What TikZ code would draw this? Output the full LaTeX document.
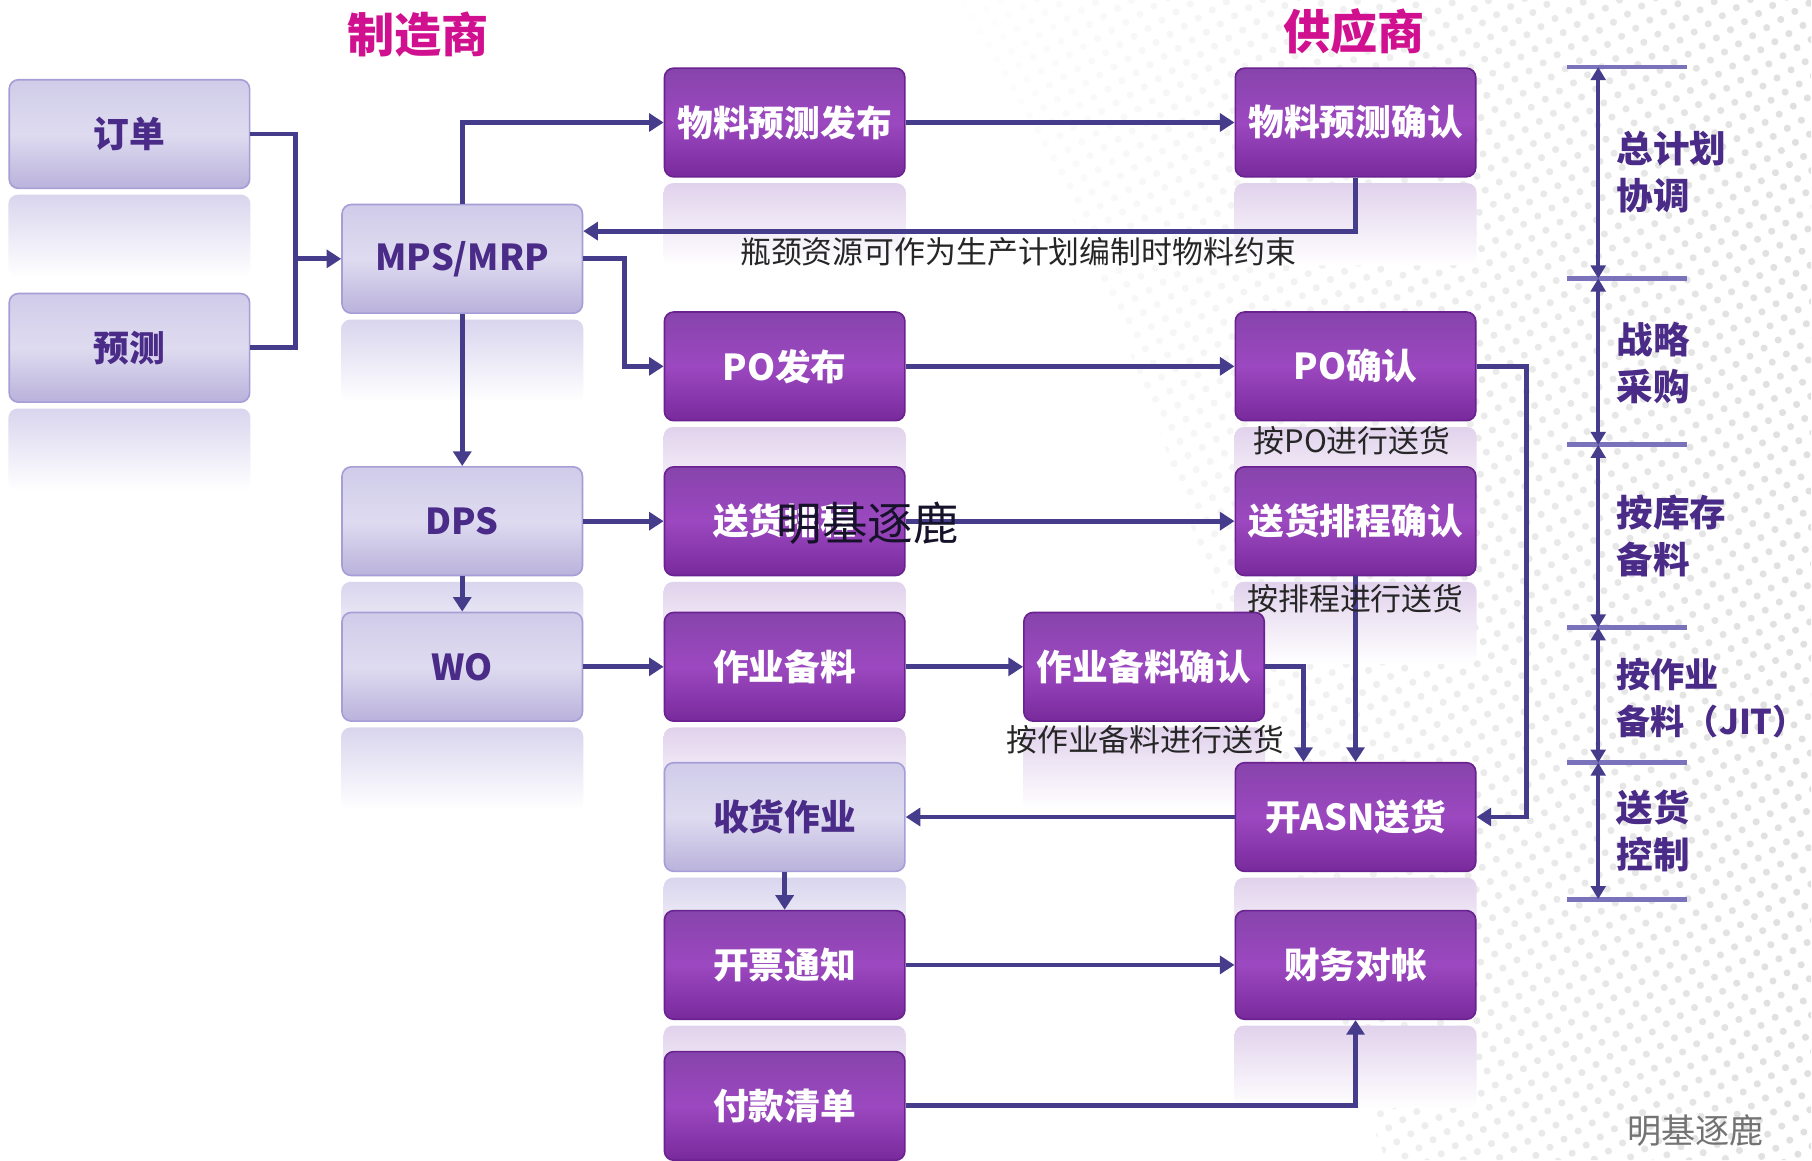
\documentclass[tikz,border=0pt]{standalone}
\usepackage{fontspec}
\setmainfont{Noto Sans CJK SC}
\usetikzlibrary{arrows.meta,backgrounds,patterns.meta,calc,fadings}

\definecolor{linecol}{HTML}{463C8C}
\definecolor{tickcol}{HTML}{7A72BA}
\definecolor{titlecol}{HTML}{D0108F}
\definecolor{lighttxt}{HTML}{4A2C88}
\definecolor{lightborder}{HTML}{A69ED6}
\definecolor{lighttop}{HTML}{D0CCE9}
\definecolor{lightmid}{HTML}{DEDBF0}
\definecolor{lightbot}{HTML}{BAB2DB}
\definecolor{purtop}{HTML}{8744AC}
\definecolor{purmid}{HTML}{9C48C0}
\definecolor{purbot}{HTML}{782A9C}
\definecolor{purborder}{HTML}{6A2290}
\definecolor{lightglow}{HTML}{D9D5EE}
\definecolor{purglow}{HTML}{E1D2EC}

\tikzset{
  box/.style={rounded corners=0.2cm, minimum width=5.2cm, minimum height=2.35cm,
    inner sep=0pt, font=\fontsize{22}{26}\selectfont\bfseries},
  lightbox/.style={box, draw=lightborder, line width=1pt,
    top color=lighttop, bottom color=lightbot, middle color=lightmid, text=lighttxt},
  purplebox/.style={box, draw=purborder, line width=1pt,
    top color=purtop, bottom color=purbot, middle color=purmid, text=white},
  flow/.style={draw=linecol, line width=3pt, -{Triangle[length=9pt,width=11pt]}},
  note/.style={font=\fontsize{19}{22}\selectfont, text=black!85},
  titletext/.style={font=\fontsize{29}{32}\selectfont\bfseries, text=titlecol},
  side/.style={font=\fontsize{22.5}{29}\selectfont\bfseries, text=lighttxt, align=left, anchor=west},
  tick/.style={draw=tickcol, line width=3pt},
  span/.style={draw=linecol, line width=2.5pt, {Triangle[length=8pt,width=9pt]}-{Triangle[length=8pt,width=9pt]}}
}

\begin{document}
\begin{tikzpicture}[x=0.025cm, y=-0.025cm]
  \useasboundingbox (0,0) rectangle (1568,1004);

  \node [titletext] (maker) at (362,30) {制造商};
  \node [titletext] (supplier) at (1172,27) {供应商};

  \node [lightbox] (order) at (112,116) {订单};
  \node [lightbox] (forecast) at (112,301) {预测};
  \node [lightbox] (mps) at (400,224) {MPS/MRP};
  \node [lightbox] (dps) at (400,451) {DPS};
  \node [lightbox] (wo) at (400,577) {WO};

  \node [purplebox] (fcpub) at (679,106) {物料预测发布};
  \node [purplebox] (popub) at (679,317) {PO发布};
  \node [purplebox] (sched) at (679,451) {送货排程};
  \node [purplebox] (kit) at (679,577) {作业备料};
  \node [lightbox] (receive) at (679,707) {收货作业};
  \node [purplebox] (invoice) at (679,835) {开票通知};
  \node [purplebox] (payment) at (679,957) {付款清单};

  \node [purplebox] (kitok) at (990,577) {作业备料确认};

  \node [purplebox] (fcok) at (1173,106) {物料预测确认};
  \node [purplebox] (pook) at (1173,317) {PO确认};
  \node [purplebox] (schedok) at (1173,451) {送货排程确认};
  \node [purplebox] (asn) at (1173,707) {开ASN送货};
  \node [purplebox] (recon) at (1173,835) {财务对帐};

  \coordinate (join) at ($(order.east)!0.5!(mps.west)$);
  \draw [draw=linecol, line width=3pt] (order.east) -| (join) |- (forecast.east);
  \draw [flow] (join |- mps.west) -- (mps.west);
  \draw [flow] (mps.north) |- (fcpub.west);
  \draw [flow] (fcpub.east) -- (fcok.west);
  \draw [flow] (fcok.south) |- ([yshift=0.6cm]mps.east);
  \draw [flow] (mps.east) -- ++(36,0) |- (popub.west);
  \draw [flow] (popub.east) -- (pook.west);
  \draw [flow] (pook.east) -- ++(43,0) |- (asn.east);
  \draw [flow] (mps.south) -- (dps.north);
  \draw [flow] (dps.east) -- (sched.west);
  \draw [flow] (sched.east) -- (schedok.west);
  \draw [flow] (schedok.south) -- (asn.north);
  \draw [flow] (dps.south) -- (wo.north);
  \draw [flow] (wo.east) -- (kit.west);
  \draw [flow] (kit.east) -- (kitok.west);
  \draw [flow] (kitok.east) -| ([xshift=-1.125cm]asn.north);
  \draw [flow] (asn.west) -- (receive.east);
  \draw [flow] (receive.south) -- (invoice.north);
  \draw [flow] (invoice.east) -- (recon.west);
  \draw [flow] (payment.east) -| (recon.south);

  \node [note] (constraint) at (881,218) {瓶颈资源可作为生产计划编制时物料约束};
  \node [note] (bypo) at (1170,381) {按PO进行送货};
  \node [note] (bysched) at (1173,518) {按排程进行送货};
  \node [note] (bykit) at (991,640) {按作业备料进行送货};

  \node [font=\fontsize{28}{30}\selectfont, text=black!70!linecol] (mark) at (751,453) {明基逐鹿};
  \node [font=\fontsize{21}{24}\selectfont, text=black!55] (brand) at (1467,978) {明基逐鹿};

  \foreach \y in {58,241,385,543,660,778}
    \draw [tick] (1356,\y) -- (1460,\y);
  \foreach \a/\b in {58/241,241/385,385/543,543/660,660/778}
    \draw [span] (1383,\a) -- (1383,\b);

  \node [side] (plan) at (1394,149) {总计划\\协调};
  \node [side] (buy) at (1394,314) {战略\\采购};
  \node [side] (stock) at (1394,464) {按库存\\备料};
  \node [side, font=\fontsize{21}{29}\selectfont\bfseries] (jit) at (1394,604) {按作业\\备料（JIT）};
  \node [side] (ship) at (1394,719) {送货\\控制};

  \begin{pgfonlayer}{background}
    \fill [white] (0,0) rectangle (1568,1004);
    \fill [pattern={Dots[radius=2.2pt,distance=10pt,angle=30]}, pattern color=black!12, path fading=west]
      (820,0) .. controls (1040,320) and (1080,700) .. (1200,1004) -- (1568,1004) -- (1568,0) -- cycle;
    \foreach \n in {order,forecast,mps,dps,wo,receive}
      \shade [top color=lightglow, bottom color=white, rounded corners=0.2cm]
        ([yshift=-0.12cm]\n.south west) rectangle ([yshift=-1.9cm]\n.south east);
    \foreach \n in {fcpub,popub,sched,kit,invoice,payment,kitok,fcok,pook,schedok,asn,recon}
      \shade [top color=purglow, bottom color=white, rounded corners=0.2cm]
        ([yshift=-0.12cm]\n.south west) rectangle ([yshift=-1.9cm]\n.south east);
  \end{pgfonlayer}
\end{tikzpicture}
\end{document}
